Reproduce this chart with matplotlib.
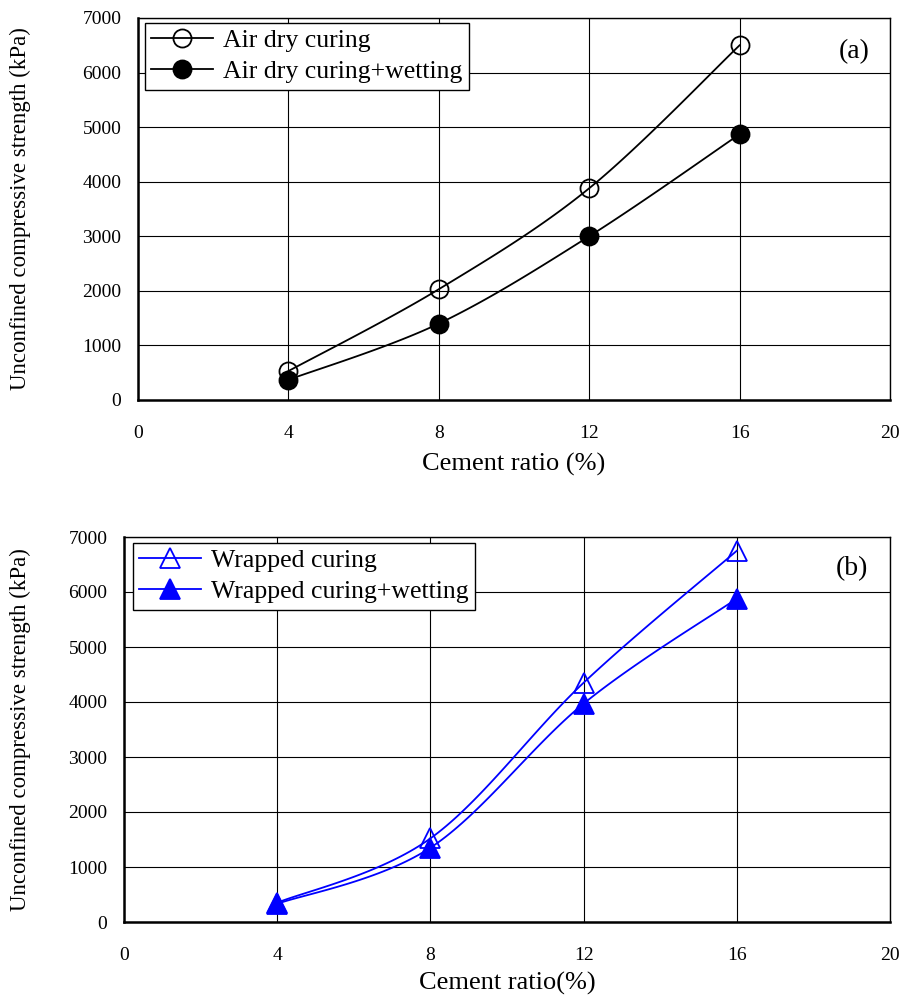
import numpy as np
import matplotlib
matplotlib.use("Agg")
import matplotlib.pyplot as plt

plt.rcParams['font.family'] = ['Liberation Serif', 'DejaVu Serif']
plt.rcParams['mathtext.fontset'] = 'stix'

cement = [4, 8, 12, 16]
air_dry = [530, 2030, 3880, 6500]
air_dry_wet = [370, 1400, 3000, 4870]
wrapped = [350, 1520, 4350, 6750]
wrapped_wet = [330, 1350, 3970, 5880]

x_ticks = [0, 4, 8, 12, 16, 20]
y_ticks = [0, 1000, 2000, 3000, 4000, 5000, 6000, 7000]


def smooth(xs, ys, n=40):
    """Excel-like smoothed line (cubic Bezier with 1/6 tangents)."""
    xs = np.asarray(xs, float)
    ys = np.asarray(ys, float)
    P = np.column_stack([xs, ys])
    out = []
    m = len(P)
    for i in range(m - 1):
        p0 = P[i - 1] if i > 0 else P[i]
        p1 = P[i]
        p2 = P[i + 1]
        p3 = P[i + 2] if i + 2 < m else P[i + 1]
        c1 = p1 + (p2 - p0) / 6.0
        c2 = p2 - (p3 - p1) / 6.0
        t = np.linspace(0, 1, n)[:, None]
        seg = ((1 - t) ** 3) * p1 + 3 * ((1 - t) ** 2) * t * c1 + 3 * (1 - t) * t ** 2 * c2 + t ** 3 * p2
        out.append(seg if i == 0 else seg[1:])
    s = np.vstack(out)
    return s[:, 0], s[:, 1]


W, H = 904, 996
fig = plt.figure(figsize=(W / 100, H / 100), dpi=100)
# pixel boxes: (left, top, right, bottom)
box1 = (138, 18, 890, 400)
box2 = (124, 537, 890, 922)


def make_ax(b):
    l, t, r, bt = b
    return fig.add_axes([l / W, 1 - bt / H, (r - l) / W, (bt - t) / H])


ax1 = make_ax(box1)
ax2 = make_ax(box2)


def style(ax, b, xlabel, tag, tag_xy, xlab_y):
    l, t, r, bt = b
    ax.set_xlim(0, 20)
    ax.set_ylim(0, 7000)
    ax.set_xticks(x_ticks)
    ax.set_yticks(y_ticks)
    ax.grid(True, color='black', linewidth=0.8)
    ax.set_axisbelow(True)
    ax.tick_params(axis='both', which='both', length=0, labelsize=14)
    ax.tick_params(axis='y', pad=12)
    ax.tick_params(axis='x', pad=18)
    for s in ax.spines.values():
        s.set_linewidth(1.0)
        s.set_color('black')
    ax.spines['left'].set_linewidth(1.8)
    ax.spines['bottom'].set_linewidth(1.8)
    ax.set_xlabel(xlabel, fontsize=19)
    ax.xaxis.label.set_va('center')
    ax.xaxis.set_label_coords(0.5, (bt - xlab_y) / (bt - t))
    ax.set_ylabel('Unconfined compressive strength (kPa)', fontsize=16.5)
    ax.yaxis.label.set_va('center')
    ax.yaxis.set_label_coords((20 - l) / (r - l), 0.5)
    ax.text(tag_xy[0], tag_xy[1], tag, transform=ax.transAxes, fontsize=20, ha='center', va='center')


# Panel (a)
for vals, fill, lab in [(air_dry, 'none', 'Air dry curing'), (air_dry_wet, 'black', 'Air dry curing+wetting')]:
    sx, sy = smooth(cement, vals)
    ax1.plot(sx, sy, color='black', linewidth=1.3, zorder=3)
    ax1.plot(cement, vals, linestyle='none', marker='o', markersize=13,
             markerfacecolor=fill, markeredgecolor='black', markeredgewidth=1.3, zorder=4)
    ax1.plot([], [], color='black', linewidth=1.3, marker='o', markersize=13,
             markerfacecolor=fill, markeredgecolor='black', markeredgewidth=1.3, label=lab)
style(ax1, box1, 'Cement ratio (%)', '(a)', (0.953, 0.911), 464)
leg1 = ax1.legend(loc='upper left', bbox_to_anchor=(7 / 752, 1 - 5 / 382), fontsize=18.5, frameon=True,
                  fancybox=False, edgecolor='black', framealpha=1, handlelength=2.4,
                  borderpad=0.25, labelspacing=0.3, handletextpad=0.4, borderaxespad=0)
leg1.get_frame().set_linewidth(1.0)

# Panel (b)
blue = '#0000ff'
for vals, fill, lab in [(wrapped, 'none', 'Wrapped curing'), (wrapped_wet, blue, 'Wrapped curing+wetting')]:
    sx, sy = smooth(cement, vals)
    ax2.plot(sx, sy, color=blue, linewidth=1.3, zorder=3)
    ax2.plot(cement, vals, linestyle='none', marker='^', markersize=14,
             markerfacecolor=fill, markeredgecolor=blue, markeredgewidth=1.3, zorder=4)
    ax2.plot([], [], color=blue, linewidth=1.3, marker='^', markersize=14,
             markerfacecolor=fill, markeredgecolor=blue, markeredgewidth=1.3, label=lab)
style(ax2, box2, 'Cement ratio(%)', '(b)', (0.950, 0.919), 983)
leg2 = ax2.legend(loc='upper left', bbox_to_anchor=(9 / 766, 1 - 6 / 385), fontsize=18.5, frameon=True,
                  fancybox=False, edgecolor='black', framealpha=1, handlelength=2.4,
                  borderpad=0.25, labelspacing=0.3, handletextpad=0.4, borderaxespad=0)
leg2.get_frame().set_linewidth(1.0)

fig.savefig('out.png', dpi=100)
